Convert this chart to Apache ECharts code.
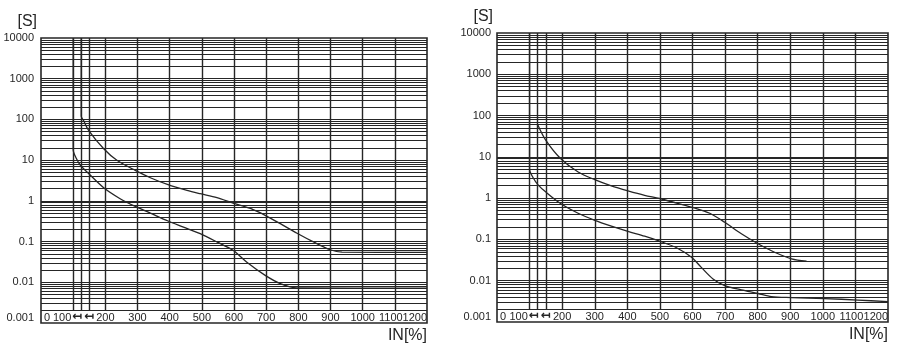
<!DOCTYPE html>
<html>
<head>
<meta charset="utf-8">
<script src="https://cdn.jsdelivr.net/npm/echarts@6/dist/echarts.min.js"></script>
<style>
  html, body { margin: 0; background: #fff; }
  #chart { width: 902px; height: 352px; }
</style>
</head>
<body>
<div id="chart"></div>
<script>
// axis ranges
const xMin = 0, xMax = 1200;
const yMin = 0.001, yMax = 10000;
const yStripTop = 0.002; // vertical grid lines stop here, labels sit below

const yTickLabels = ['0.001', '0.01', '0.1', '1', '10', '100', '1000', '10000'];
const xGridValues = [100, 125, 150, 200, 300, 400, 500, 600, 700, 800, 900, 1000, 1100];
const xLabelValues = [0, 100, 125, 150, 200, 300, 400, 500, 600, 700, 800, 900, 1000, 1100];
const xEndLabelValues = [1200];

// left chart
const leftUpperX = [125, 125, 132, 148, 195, 236, 293, 340, 395, 454, 495, 547, 597, 651, 697, 744, 796, 847, 899, 936, 1200];
const leftUpperY = [10000, 120, 95, 54, 19, 9.9, 5.6, 3.7, 2.5, 1.81, 1.5, 1.2, 0.88, 0.65, 0.44, 0.275, 0.16, 0.098, 0.063, 0.055, 0.054];
const leftLowerX = [100, 100, 110, 123, 148, 195, 246, 293, 340, 395, 443, 495, 547, 597, 640, 697, 744, 796, 1200];
const leftLowerY = [10000, 18, 11, 7.4, 4.7, 2.1, 1.13, 0.73, 0.50, 0.32, 0.227, 0.156, 0.098, 0.061, 0.031, 0.0148, 0.0093, 0.0073, 0.0072];

// right chart
const rightUpperX = [125, 150, 195, 249, 300, 351, 402, 453, 499, 551, 602, 653, 699, 750, 801, 852, 904, 950];
const rightUpperY = [60, 25, 9.1, 4.3, 2.8, 1.98, 1.5, 1.17, 0.98, 0.76, 0.59, 0.43, 0.26, 0.137, 0.0786, 0.049, 0.034, 0.0296];
const rightLowerX = [100, 100, 110, 126, 150, 195, 249, 300, 351, 402, 453, 499, 551, 597, 627, 663, 699, 750, 801, 842, 904, 1006, 1108, 1200];
const rightLowerY = [10000, 5, 3.2, 2.1, 1.4, 0.74, 0.43, 0.29, 0.21, 0.157, 0.12, 0.091, 0.063, 0.037, 0.021, 0.011, 0.0076, 0.006, 0.0049, 0.0041, 0.0039, 0.0037, 0.0034, 0.0031];

const ink = '#262626';
const font = "'Liberation Sans', Arial, sans-serif";

function pairs(xs, ys) {
  return xs.map((x, i) => [x, ys[i]]);
}

// log grid: 2..9 between decades, plus the decade lines themselves
function hLines() {
  const out = [];
  for (let e = -3; e <= 3; e++) {
    for (let k = 1; k <= 9; k++) {
      const v = Number((k * Math.pow(10, e)).toPrecision(3));
      if (v < yStripTop) continue;
      out.push({ coords: [[xMin, v], [xMax, v]] });
    }
  }
  return out;
}

function vLines() {
  return xGridValues.map(x => ({ coords: [[x, yStripTop], [x, yMax]] }));
}

function xAxisFor(i) {
  return {
    type: 'value', gridIndex: i, position: 'bottom', min: xMin, max: xMax,
    axisLine: { show: false }, axisTick: { show: false }, splitLine: { show: false },
    axisLabel: {
      inside: true, margin: 0, interval: 0,
      showMinLabel: true, showMaxLabel: true, hideOverlap: false,
      customValues: xLabelValues,
      fontSize: 11, color: ink, fontFamily: font,
      formatter: v => {
        if (v === 0) return '{first|0}';
        if (v === 100) return '{hundred|100}';
        if (v === 125) return '{arrowA|\u21a4}';
        if (v === 150) return '{arrow|\u21a4}';
        if (v === 1100) return '{prev|1100}';
        return String(v);
      },
      rich: {
        first: { fontSize: 11, color: ink, fontFamily: font, padding: [0, 0, 0, 12] },
        hundred: { fontSize: 11, color: ink, fontFamily: font, padding: [0, 22, 0, 0] },
        arrowA: { fontSize: 12, fontWeight: 'bold', color: ink, fontFamily: 'DejaVu Sans', padding: [0, 8, 0, 0] },
        arrow: { fontSize: 12, fontWeight: 'bold', color: ink, fontFamily: 'DejaVu Sans' },
        prev: { fontSize: 11, color: ink, fontFamily: font, padding: [0, 8, 0, 0] }
      }
    },
    name: 'IN[%]', nameLocation: 'end', nameGap: 0,
    nameTextStyle: { fontSize: 16, color: ink, fontFamily: font, align: 'right', verticalAlign: 'top', padding: [5, 0, 0, 0] }
  };
}

// second x axis on the same grid: only the right-aligned end label
function xEndAxisFor(i) {
  return {
    type: 'value', gridIndex: i, position: 'bottom', min: xMin, max: xMax,
    axisLine: { show: false }, axisTick: { show: false }, splitLine: { show: false },
    axisLabel: {
      inside: true, margin: 0, align: 'right',
      customValues: xEndLabelValues, showMaxLabel: true,
      fontSize: 11, color: ink, fontFamily: font,
      formatter: v => String(v)
    }
  };
}

function yAxisFor(i, margin) {
  return {
    type: 'log', logBase: 10, gridIndex: i, min: yMin, max: yMax, splitNumber: 7,
    axisLine: { show: false }, axisTick: { show: false }, splitLine: { show: false },
    axisLabel: {
      fontSize: 11, color: ink, fontFamily: font, margin: margin,
      formatter: v => {
        const e = Math.round(Math.log10(v));
        const t = yTickLabels[e + 3];
        return e === -3 ? '{low|' + t + '}' : t;
      },
      rich: { low: { fontSize: 11, color: ink, fontFamily: font, padding: [0, 0, 10, 0] } }
    },
    name: '[S]', nameLocation: 'end', nameGap: 8,
    nameTextStyle: { fontSize: 16, color: ink, fontFamily: font, align: 'right', verticalAlign: 'bottom', padding: [0, 4, 0, 0] }
  };
}

function gridSeries(i) {
  return [
    {
      type: 'lines', coordinateSystem: 'cartesian2d', xAxisIndex: i, yAxisIndex: i, silent: true,
      lineStyle: { color: ink, width: 1, opacity: 1 }, data: hLines(), z: 1
    },
    {
      type: 'lines', coordinateSystem: 'cartesian2d', xAxisIndex: i, yAxisIndex: i, silent: true,
      lineStyle: { color: ink, width: 1.4, opacity: 1 }, data: vLines(), z: 1
    }
  ];
}

function curve(i, xs, ys) {
  return {
    type: 'line', xAxisIndex: i, yAxisIndex: i, data: pairs(xs, ys),
    showSymbol: false, smooth: 0.3, silent: true,
    lineStyle: { color: ink, width: 1.3 }, z: 3
  };
}

const chart = echarts.init(document.getElementById('chart'), null, { renderer: 'canvas' });
chart.setOption({
  animation: false,
  backgroundColor: '#fff',
  grid: [
    { left: 41, top: 38, right: 475, bottom: 29, show: true, borderColor: ink, borderWidth: 1.6, backgroundColor: 'transparent' },
    { left: 497, top: 33, right: 14, bottom: 30, show: true, borderColor: ink, borderWidth: 1.6, backgroundColor: 'transparent' }
  ],
  xAxis: [xAxisFor(0), xAxisFor(1), xEndAxisFor(0), xEndAxisFor(1)],
  yAxis: [yAxisFor(0, 7), yAxisFor(1, 6)],
  series: [
    ...gridSeries(0),
    ...gridSeries(1),
    curve(0, leftUpperX, leftUpperY),
    curve(0, leftLowerX, leftLowerY),
    curve(1, rightUpperX, rightUpperY),
    curve(1, rightLowerX, rightLowerY)
  ]
});
</script>
</body>
</html>
